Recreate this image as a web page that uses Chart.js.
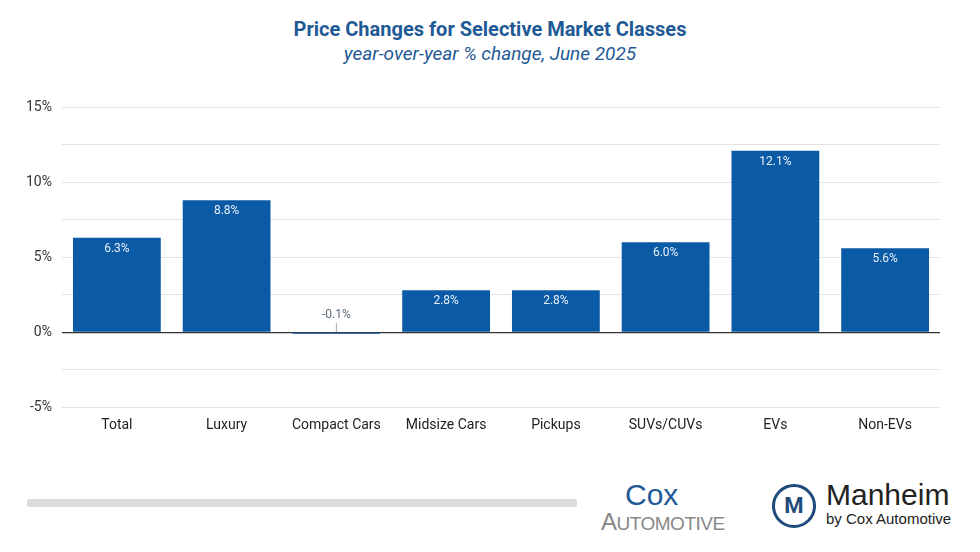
<!DOCTYPE html>
<html><head><meta charset="utf-8">
<script src="https://cdn.jsdelivr.net/npm/chart.js@4"></script>
<style>
body{margin:0;width:980px;height:552px;background:#fff;font-family:Roboto,sans-serif;position:relative;overflow:hidden}
#t{position:absolute;top:17px;width:100%;text-align:center;color:#1f5a96;font-weight:bold;font-size:20px}
#s{position:absolute;top:42px;width:100%;text-align:center;color:#1f5a96;font-style:italic;font-size:19px}
#cw{position:absolute;left:0;top:89px;width:980px;height:359px}
#bar{position:absolute;left:27px;top:499px;width:550px;height:8px;background:#dcdcdc;border-radius:2px}
#cox{position:absolute;left:601px;top:480px;color:#1f5a96;font-family:"Liberation Sans Narrow","Liberation Sans",sans-serif;line-height:1}
#m{position:absolute;left:772px;top:484px;width:44px;height:44px;border-radius:50%;border:3px solid #1f4b7a;box-sizing:border-box;color:#1f4b7a;font-weight:bold;text-align:center;line-height:38px;font-size:22px}
#mt{position:absolute;left:826px;top:478px;color:#222;font-family:"Liberation Sans Narrow","Liberation Sans",sans-serif}
</style></head><body>
<div id="t">Price Changes for Selective Market Classes</div>
<div id="s">year-over-year % change, June 2025</div>
<div id="cw"><canvas id="c"></canvas></div>
<div id="bar"></div>
<div id="cox"><div style="font-size:30px;padding-left:24px">Cox</div><div style="font-size:24px;color:#888;letter-spacing:-0.5px">A<span style="font-size:19px">UTOMOTIVE</span></div></div>
<div id="m">M</div>
<div id="mt"><div style="font-size:30px">Manheim</div><div style="font-size:15px;margin-top:-2px">by Cox Automotive</div></div>
<script>
const categories=["Total","Luxury","Compact Cars","Midsize Cars","Pickups","SUVs/CUVs","EVs","Non-EVs"];
const values=[6.3,8.8,-0.1,2.8,2.8,6.0,12.1,5.6];
const tickLabels=["-5%","0%","5%","10%","15%"];
const labelPlugin={id:'lbl',afterDatasetsDraw(ch){
 const ctx=ch.ctx,meta=ch.getDatasetMeta(0),y0=ch.scales.y.getPixelForValue(0);
 ctx.save();ctx.font='12px Roboto';ctx.textAlign='center';ctx.textBaseline='top';
 meta.data.forEach((b,i)=>{const v=values[i];const t=v.toFixed(1)+'%';
  if(v>=1){ctx.fillStyle='#e8f0fa';ctx.fillText(t,b.x,b.y+5);}
  else{ctx.fillStyle='#5a6a7a';ctx.fillText(t,b.x,y0-23);ctx.strokeStyle='#aaa';ctx.beginPath();ctx.moveTo(b.x,y0-9);ctx.lineTo(b.x,y0);ctx.stroke();}
 });ctx.restore();}};
new Chart(document.getElementById('c'),{type:'bar',
 data:{labels:categories,datasets:[{data:values,backgroundColor:'#0b5aa6',categoryPercentage:0.8,barPercentage:1}]},
 options:{responsive:true,maintainAspectRatio:false,animation:false,
  layout:{padding:{left:16,right:40,top:12,bottom:12}},
  plugins:{legend:{display:false},tooltip:{enabled:false}},
  scales:{
   x:{grid:{display:false},border:{display:false},ticks:{color:'#222',font:{size:14,family:'Roboto'},padding:2}},
   y:{min:-5,max:15,border:{display:false},
      ticks:{stepSize:2.5,color:'#333',font:{size:14,family:'Roboto'},padding:10,
        callback:v=>{const k=[-5,0,5,10,15].indexOf(v);return k>=0?tickLabels[k]:'';}},
      grid:{color:c=>c.tick.value===0?'#333':'#e3e3e3',lineWidth:c=>c.tick.value===0?1.2:1,drawTicks:false}}}},
 plugins:[labelPlugin]});
</script></body></html>
